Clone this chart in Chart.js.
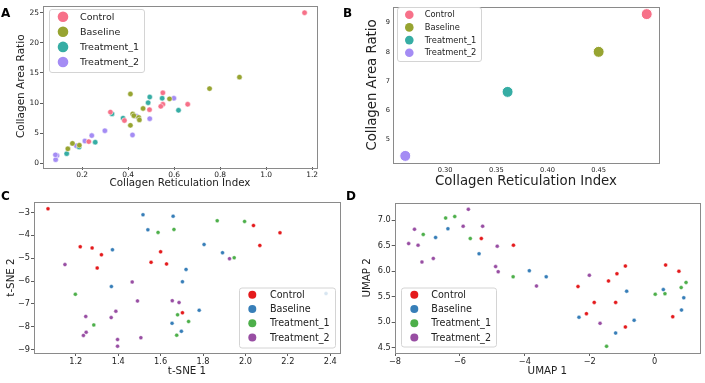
<!DOCTYPE html>
<html>
<head>
<meta charset="utf-8">
<script src="https://cdn.jsdelivr.net/npm/chart.js@4.4.1/dist/chart.umd.min.js"></script>
<style>
body { margin: 0; background: #fff; width: 705px; height: 383px; position: relative; overflow: hidden; }
canvas { position: absolute; }
.tag { position: absolute; font: bold 12px 'DejaVu Sans'; line-height: 12px; color: #000; }
</style>
</head>
<body>
<canvas id="chartA" width="345" height="190" style="left:0;top:0"></canvas>
<canvas id="chartB" width="355" height="190" style="left:350px;top:0"></canvas>
<canvas id="chartC" width="345" height="193" style="left:0;top:190px"></canvas>
<canvas id="chartD" width="355" height="193" style="left:350px;top:190px"></canvas>
<div class="tag" style="left:1px;top:7px">A</div>
<div class="tag" style="left:343px;top:7px">B</div>
<div class="tag" style="left:1px;top:190px">C</div>
<div class="tag" style="left:346px;top:190px">D</div>

<script>
const groups = ["Control", "Baseline", "Treatment_1", "Treatment_2"];
const huslColors = ["#f77189", "#97a431", "#36ada4", "#a48cf4"];
const set1Colors = ["#e41a1c", "#377eb8", "#4daf4a", "#984ea3"];

// A: per-sample reticulation index vs area ratio
const aControl = [[1.167, 25.0], [0.551, 11.7], [0.551, 9.8], [0.542, 9.45], [0.493, 8.9], [0.659, 9.8], [0.384, 7.1], [0.229, 3.6], [0.323, 8.5]];
const aBaseline = [[0.884, 14.3], [0.754, 12.4], [0.41, 11.5], [0.58, 10.7], [0.465, 9.1], [0.42, 8.2], [0.425, 7.9], [0.446, 7.6], [0.449, 7.2], [0.41, 6.3], [0.158, 3.3], [0.138, 2.4], [0.188, 3.0]];
const aTreatment1 = [[0.494, 11.0], [0.548, 10.8], [0.487, 10.05], [0.619, 8.8], [0.33, 8.2], [0.378, 7.5], [0.257, 3.5], [0.187, 2.7], [0.133, 1.6]];
const aTreatment2 = [[0.599, 10.8], [0.436, 7.8], [0.494, 7.4], [0.419, 4.7], [0.299, 5.4], [0.242, 4.6], [0.212, 3.7], [0.175, 2.9], [0.091, 1.3], [0.085, 0.6], [0.084, 1.4]];

// B: group means
const bMeanX = [0.497, 0.45, 0.361, 0.261];
const bMeanY = [9.29, 8.0, 6.63, 4.44];

// C: t-SNE embedding
const cControl = [[1.069, -2.84], [1.221, -4.50], [1.277, -4.55], [1.321, -4.85], [1.301, -5.43], [1.60, -4.72], [1.555, -5.18], [1.628, -5.25], [1.703, -7.39], [2.038, -3.57], [2.163, -3.89], [2.068, -4.44]];
const cBaseline = [[1.517, -3.10], [1.659, -3.16], [1.540, -3.76], [1.373, -4.63], [1.368, -6.24], [1.720, -5.49], [1.703, -6.03], [1.654, -7.85], [1.698, -8.20], [1.805, -4.40], [1.892, -4.76], [1.782, -7.28], [2.38, -6.55]];
const cTreatment1 = [[1.588, -3.87], [1.663, -3.74], [1.198, -6.58], [1.285, -7.92], [1.680, -7.48], [1.676, -8.37], [1.732, -7.77], [1.867, -3.36], [1.996, -3.39], [1.947, -4.98]];
const cTreatment2 = [[1.149, -5.28], [1.466, -6.04], [1.491, -6.87], [1.389, -7.32], [1.367, -7.60], [1.247, -7.55], [1.249, -8.24], [1.236, -8.38], [1.397, -8.56], [1.397, -8.85], [1.507, -8.48], [1.655, -6.86], [1.687, -6.94], [1.925, -5.02]];

// D: UMAP embedding
const dControl = [[-5.34, 6.64], [-4.35, 6.51], [-0.90, 6.10], [-1.16, 5.95], [-1.42, 5.81], [-2.36, 5.70], [-1.86, 5.39], [-1.20, 5.39], [-2.10, 5.17], [-0.90, 4.91], [0.34, 6.12], [0.75, 6.00], [0.56, 5.11]];
const dBaseline = [[-6.37, 6.83], [-6.75, 6.66], [-5.41, 6.34], [-3.86, 6.01], [-3.34, 5.89], [-0.86, 5.61], [-2.33, 5.10], [-0.63, 5.04], [-1.20, 4.79], [0.27, 5.64], [0.90, 5.48], [0.83, 5.24]];
const dTreatment1 = [[-6.44, 7.04], [-6.16, 7.07], [-7.13, 6.72], [-5.68, 6.64], [-4.36, 5.89], [-1.48, 4.53], [0.02, 5.55], [0.32, 5.56], [0.82, 5.68], [0.97, 5.78]];
const dTreatment2 = [[-5.74, 7.21], [-7.40, 6.82], [-5.90, 6.88], [-5.30, 6.88], [-7.58, 6.54], [-7.29, 6.51], [-7.17, 6.18], [-6.82, 6.25], [-4.85, 6.49], [-4.90, 6.09], [-4.82, 5.99], [-3.64, 5.71], [-2.01, 5.92], [-1.68, 4.98]];

// tick values
const aTicksX = [0.2, 0.4, 0.6, 0.8, 1.0, 1.2];
const aTicksY = [0, 5, 10, 15, 20, 25];
const bTicksX = [0.30, 0.35, 0.40, 0.45];
const bTicksY = [5, 6, 7, 8, 9];
const cTicksX = [1.2, 1.4, 1.6, 1.8, 2.0, 2.2, 2.4];
const cTicksY = [-9, -8, -7, -6, -5, -4, -3];
const dTicksX = [-8, -6, -4, -2, 0];
const dTicksY = [4.5, 5.0, 5.5, 6.0, 6.5, 7.0];

const FONT = "'DejaVu Sans'";

function toPts(pairs) {
    return pairs.map(p => ({ x: p[0], y: p[1] }));
}

function fmtNum(digits) {
    return v => v.toFixed(digits).replace("-", "\u2212");
}

// frame around the plot area, then the legend box on top
const framePlugin = {
    id: "frame",
    afterDatasetsDraw(chart) {
        const a = chart.chartArea;
        const ctx = chart.ctx;
        ctx.save();
        ctx.strokeStyle = "#8a8a8a";
        ctx.lineWidth = 1;
        ctx.strokeRect(Math.round(a.left) + 0.5, Math.round(a.top) + 0.5, Math.round(a.right - a.left), Math.round(a.bottom - a.top));
        ctx.restore();

        const lg = chart.options.plugins.boxLegend;
        if (!lg) return;
        ctx.save();
        ctx.beginPath();
        ctx.roundRect(lg.x + 0.5, lg.y + 0.5, lg.w, lg.h, 2.5);
        ctx.fillStyle = "rgba(255,255,255,0.8)";
        ctx.fill();
        ctx.strokeStyle = "#d4d4d4";
        ctx.lineWidth = 1;
        ctx.stroke();
        ctx.font = lg.size + "px " + FONT;
        ctx.textBaseline = "middle";
        chart.data.datasets.forEach((ds, i) => {
            const cy = lg.rowY + i * lg.rowH;
            ctx.beginPath();
            ctx.arc(lg.cx, cy, lg.r, 0, Math.PI * 2);
            ctx.fillStyle = ds.backgroundColor;
            ctx.fill();
            ctx.fillStyle = "#222";
            ctx.fillText(ds.label, lg.textX, cy + 0.5);
        });
        ctx.restore();
    }
};

function makeAxis(cfg) {
    return {
        type: "linear",
        position: cfg.pos,
        min: cfg.min,
        max: cfg.max,
        afterBuildTicks: s => { s.ticks = cfg.ticks.map(v => ({ value: v })); },
        afterFit: s => {
            if (cfg.pos === "left") s.width = cfg.size; else s.height = cfg.size;
        },
        grid: { display: true, drawOnChartArea: false, drawTicks: cfg.tickLen > 0, tickLength: cfg.tickLen, tickColor: "#333", tickWidth: 0.8 },
        border: { display: false },
        ticks: {
            autoSkip: false, maxRotation: 0, padding: cfg.tickPad,
            color: "#222", font: { family: FONT, size: cfg.tickSize },
            callback: fmtNum(cfg.digits)
        },
        title: {
            display: true, text: cfg.title, color: "#222",
            font: { family: FONT, size: cfg.titleSize },
            padding: cfg.pos === "left" ? { top: cfg.titlePad, bottom: 0 } : { top: 0, bottom: cfg.titlePad }
        }
    };
}

function makeChart(id, datasets, opts) {
    return new Chart(document.getElementById(id), {
        type: "scatter",
        data: { datasets: datasets },
        options: {
            responsive: false,
            animation: false,
            events: [],
            layout: { padding: opts.padding },
            scales: { x: makeAxis(opts.x), y: makeAxis(opts.y) },
            plugins: { legend: { display: false }, tooltip: { enabled: false }, boxLegend: opts.legend }
        },
        plugins: [framePlugin]
    });
}

function seriesSet(seriesList, colors, radius, border) {
    return seriesList.map((s, i) => ({
        label: groups[i],
        data: toPts(s),
        backgroundColor: colors[i],
        borderColor: "#ffffff",
        borderWidth: border,
        pointRadius: radius
    }));
}

// panel A
makeChart("chartA", seriesSet([aControl, aBaseline, aTreatment1, aTreatment2], huslColors, 2.7, 0.5), {
    padding: { left: 0, right: 28, top: 5, bottom: 0 },
    x: { pos: "bottom", min: 0.03, max: 1.221, ticks: aTicksX, digits: 1, size: 23, tickLen: 3, tickPad: 0.5, tickSize: 7.5, title: "Collagen Reticulation Index", titleSize: 10.3, titlePad: 0 },
    y: { pos: "left", min: -0.62, max: 26.2, ticks: aTicksY, digits: 0, size: 43, tickLen: 3, tickPad: 1, tickSize: 7.5, title: "Collagen Area Ratio", titleSize: 10.5, titlePad: 15 },
    legend: { x: 49, y: 9, w: 95, h: 63, cx: 63, r: 5.3, rowY: 16.7, rowH: 15.1, textX: 80, size: 9.5 }
});

// panel B
makeChart("chartB", groups.map((g, i) => ({
    label: g,
    data: [{ x: bMeanX[i], y: bMeanY[i] }],
    backgroundColor: huslColors[i],
    borderColor: "#ffffff",
    borderWidth: 1,
    pointRadius: 5.5
})), {
    padding: { left: 0, right: 46, top: 4, bottom: 0 },
    x: { pos: "bottom", min: 0.249, max: 0.509, ticks: bTicksX, digits: 2, size: 27, tickLen: 0, tickPad: 3, tickSize: 6.7, title: "Collagen Reticulation Index", titleSize: 13.3, titlePad: 0 },
    y: { pos: "left", min: 4.197, max: 9.533, ticks: bTicksY, digits: 0, size: 43, tickLen: 0, tickPad: 3, tickSize: 6.7, title: "Collagen Area Ratio", titleSize: 13.3, titlePad: 15 },
    legend: { x: 47, y: 7, w: 84, h: 54, cx: 59.3, r: 4.3, rowY: 14.7, rowH: 12.7, textX: 74.7, size: 8.3 }
});

// panel C
makeChart("chartC", seriesSet([cControl, cBaseline, cTreatment1, cTreatment2], set1Colors, 2, 0.4), {
    padding: { left: 0, right: 5, top: 12, bottom: 0 },
    x: { pos: "bottom", min: 1.003, max: 2.446, ticks: cTicksX, digits: 1, size: 30, tickLen: 3, tickPad: 0.5, tickSize: 8.2, title: "t-SNE 1", titleSize: 10.3, titlePad: 5 },
    y: { pos: "left", min: -9.15, max: -2.54, ticks: cTicksY, digits: 0, size: 34, tickLen: 3, tickPad: 1, tickSize: 8.2, title: "t-SNE 2", titleSize: 10.3, titlePad: 5 },
    legend: { x: 239, y: 97.5, w: 96, h: 60, cx: 252.3, r: 4, rowY: 104.7, rowH: 14.3, textX: 270, size: 9.6 }
});

// panel D
makeChart("chartD", seriesSet([dControl, dBaseline, dTreatment1, dTreatment2], set1Colors, 2, 0.4), {
    padding: { left: 0, right: 5, top: 12.7, bottom: 0 },
    x: { pos: "bottom", min: -8.01, max: 1.40, ticks: dTicksX, digits: 0, size: 30, tickLen: 3, tickPad: 0.5, tickSize: 8.2, title: "UMAP 1", titleSize: 10.3, titlePad: 5 },
    y: { pos: "left", min: 4.40, max: 7.34, ticks: dTicksY, digits: 1, size: 44.7, tickLen: 3, tickPad: 1, tickSize: 8.2, title: "UMAP 2", titleSize: 10.3, titlePad: 11 },
    legend: { x: 51, y: 97.5, w: 95, h: 59, cx: 64.3, r: 4, rowY: 104.7, rowH: 14.3, textX: 81.3, size: 9.6 }
});
</script>
</body>
</html>
